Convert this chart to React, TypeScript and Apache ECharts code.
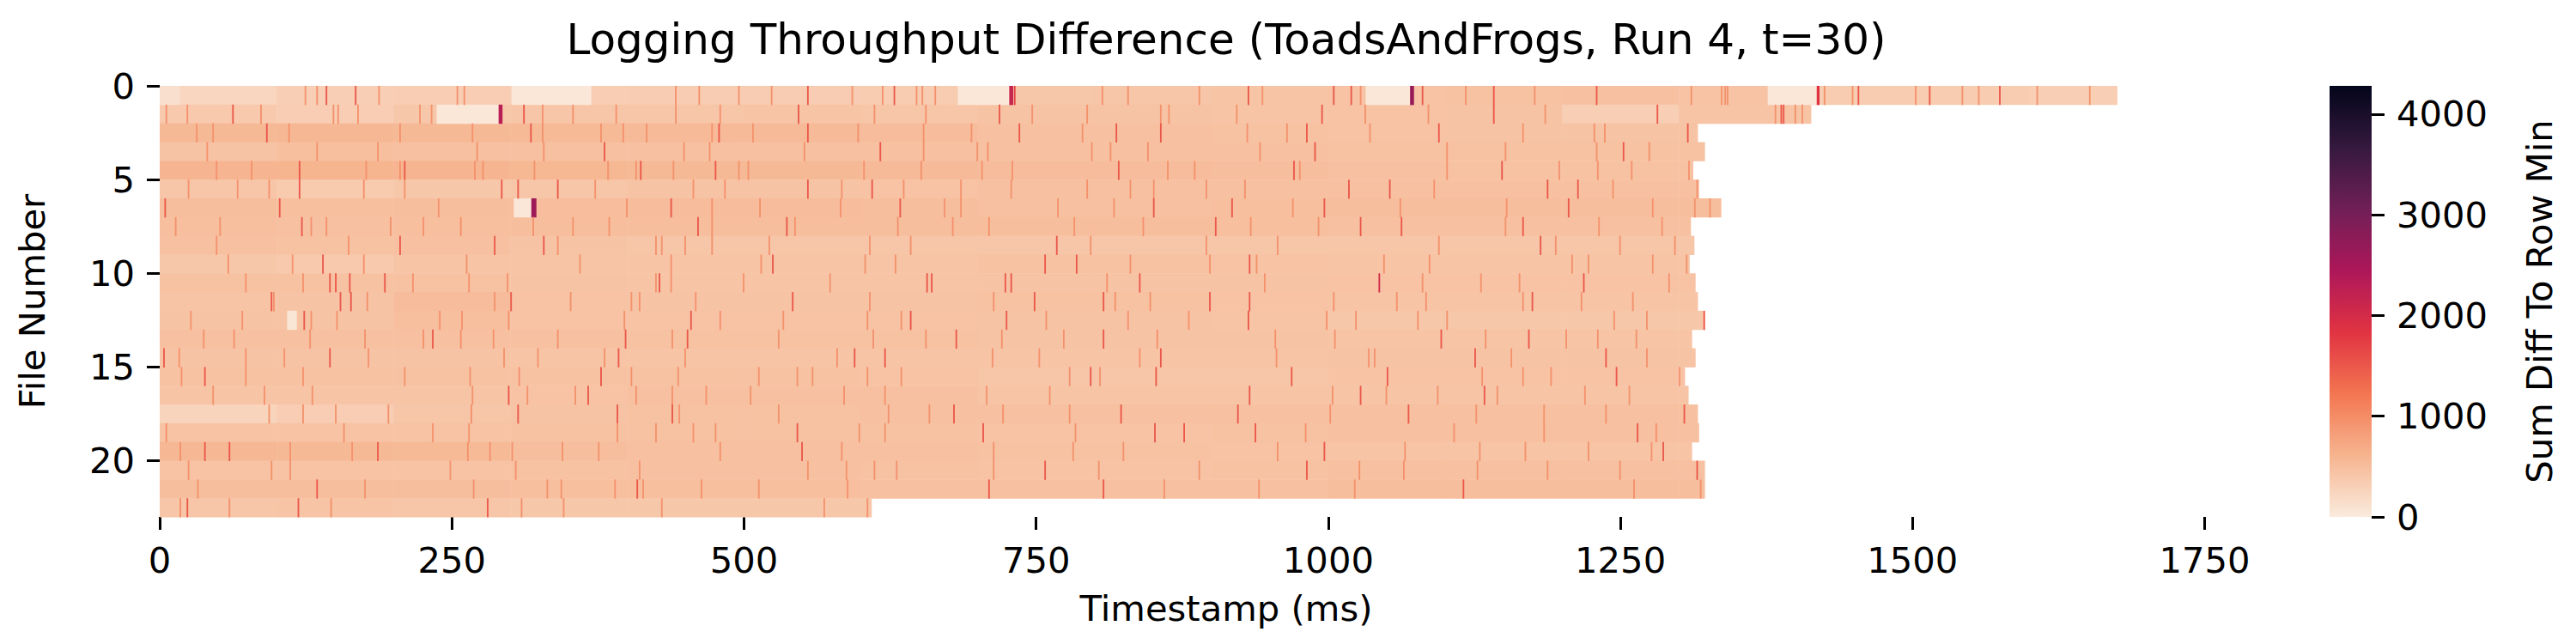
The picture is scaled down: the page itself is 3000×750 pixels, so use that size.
import React, { useEffect, useRef } from 'react';
import * as echarts from 'echarts';

const TITLE = 'Logging Throughput Difference (ToadsAndFrogs, Run 4, t=30)';
const X_LABEL = 'Timestamp (ms)';
const Y_LABEL = 'File Number';
const CBAR_LABEL = 'Sum Diff To Row Min';

const xTicks = [0, 250, 500, 750, 1000, 1250, 1500, 1750];
const yTicks = [0, 5, 10, 15, 20];
const cbarTicks = [0, 1000, 2000, 3000, 4000];
const X_MAX = 1826;
const ROWS = 23;
const V_MAX = 4280;
const BIN_MS = 100;

// last timestamp (ms) of each file row
const rowEnds = [1675, 1413, 1316, 1322, 1312, 1317, 1336, 1310, 1313, 1309, 1314, 1316, 1322, 1311, 1314, 1305, 1308, 1316, 1317, 1311, 1322, 1322, 609];

// typical level of each row, per 100 ms bin
const rowBins: number[][] = [
  [230, 320, 330, 330, 340, 340, 350, 400, 420, 430, 450, 460, 470, 450, 350, 350, 320],
  [380, 330, 400, 420, 420, 430, 420, 440, 440, 430, 450, 440, 320, 430, 430],
  [560, 570, 560, 550, 540, 540, 520, 480, 470, 460, 450, 440, 440, 440],
  [440, 490, 480, 480, 470, 470, 470, 480, 480, 470, 460, 460, 460, 460],
  [600, 610, 600, 580, 560, 560, 540, 520, 520, 500, 470, 460, 460, 460],
  [420, 370, 400, 420, 440, 440, 450, 470, 470, 470, 470, 470, 470, 470],
  [500, 490, 500, 510, 520, 520, 500, 480, 480, 490, 500, 500, 500, 500],
  [490, 480, 490, 500, 500, 500, 500, 500, 500, 490, 470, 470, 470, 470],
  [470, 460, 470, 440, 420, 420, 420, 410, 410, 410, 420, 420, 420, 420],
  [400, 380, 430, 430, 430, 430, 430, 460, 460, 450, 430, 430, 430, 430],
  [460, 460, 460, 440, 430, 430, 430, 440, 440, 440, 450, 450, 450, 450],
  [430, 440, 520, 450, 440, 440, 440, 460, 460, 450, 430, 430, 430, 430],
  [440, 440, 490, 450, 450, 450, 450, 440, 440, 430, 400, 400, 400, 400],
  [480, 480, 480, 470, 460, 460, 460, 440, 440, 440, 430, 430, 430, 430],
  [440, 440, 440, 430, 430, 430, 430, 430, 430, 430, 440, 440, 440, 440],
  [460, 460, 460, 460, 460, 460, 450, 420, 420, 420, 450, 450, 450, 450],
  [430, 430, 430, 450, 470, 470, 470, 430, 430, 430, 430, 430, 430, 430],
  [260, 330, 420, 440, 460, 460, 470, 480, 480, 480, 470, 470, 470, 470],
  [450, 450, 450, 460, 460, 460, 460, 450, 450, 460, 480, 480, 480, 480],
  [570, 560, 550, 500, 480, 480, 470, 460, 460, 450, 430, 430, 430, 430],
  [450, 450, 450, 460, 470, 470, 460, 450, 450, 460, 480, 480, 480, 480],
  [500, 500, 500, 490, 490, 490, 480, 470, 470, 480, 500, 500, 500, 500],
  [420, 430, 420, 400, 400, 400, 400],
];

// [row, startMs, endMs, value]: quiet gaps and the dark spikes that follow them
const blocks: number[][] = [
  [0, 0, 17, 120], [0, 301, 369, 40], [0, 683, 727, 40], [0, 1032, 1070, 40], [0, 1376, 1418, 40],
  [1, 237, 290, 40], [6, 303, 318, 40], [12, 109, 117, 60],
  [0, 727, 730, 2150], [0, 731, 732, 1700], [0, 1070, 1073, 2650], [0, 1418, 1420, 1850],
  [1, 290, 293, 2300], [6, 318, 322, 2600],
];

// single-ms stripes per row: [ms, value]
const stripes: number[][][] = [
  [[124,950],[134,950],[142,1500],[167,1500],[187,950],[254,950],[260,950],[441,950],[461,950],[495,950],[523,950],[554,1500],[592,950],[618,950],[628,1500],[647,950],[652,950],[663,950],[806,950],[828,950],[889,950],[931,1500],[943,950],[1004,1500],[1019,1500],[1027,950],[1080,1500],[1117,950],[1141,1500],[1176,950],[1229,1500],[1310,950],[1336,950],[1339,950],[1341,950],[1424,950],[1448,950],[1453,1500],[1502,950],[1514,1500],[1542,950],[1556,950],[1574,1500],[1606,950],[1651,950]],
  [[5,950],[23,950],[62,1500],[86,950],[148,950],[152,950],[169,950],[222,950],[232,950],[311,1500],[327,950],[353,950],[390,950],[441,950],[479,950],[546,1500],[611,950],[655,950],[718,1500],[746,950],[793,950],[856,950],[863,950],[921,950],[994,1500],[1031,950],[1085,950],[1141,1500],[1185,950],[1281,1500],[1382,950],[1387,1500],[1389,1500],[1399,950],[1405,950]],
  [[31,950],[45,950],[91,1500],[110,950],[205,950],[267,950],[317,1500],[327,950],[377,950],[396,950],[416,950],[472,950],[478,1500],[507,950],[554,1500],[597,950],[653,950],[694,950],[735,1500],[789,950],[818,1500],[856,1500],[930,950],[964,950],[981,1500],[1035,950],[1094,1500],[1166,950],[1227,950],[1236,950],[1307,1500]],
  [[40,950],[134,950],[186,950],[271,950],[328,950],[380,1500],[448,950],[470,950],[551,950],[616,1500],[653,950],[699,950],[708,950],[797,950],[813,950],[845,950],[941,950],[988,1500],[1101,950],[1151,950],[1229,950],[1252,1500],[1274,950]],
  [[48,950],[78,950],[119,1500],[176,950],[205,950],[209,1500],[269,950],[276,950],[320,950],[383,950],[407,950],[411,1500],[439,950],[475,1500],[495,950],[503,950],[602,950],[651,950],[703,950],[729,950],[820,1500],[862,950],[885,950],[970,1500],[975,950],[1101,950],[1148,1500],[1197,950],[1230,950],[1259,950],[1308,950]],
  [[24,950],[66,950],[93,950],[119,1500],[174,950],[209,950],[292,1500],[306,1500],[340,1500],[372,950],[456,950],[483,950],[554,1500],[583,950],[609,1500],[636,950],[685,950],[728,950],[793,950],[830,950],[850,950],[895,950],[928,950],[1017,1500],[1052,1500],[1090,950],[1187,1500],[1213,1500],[1243,950],[1315,950]],
  [[4,1500],[102,1500],[238,950],[399,950],[437,1500],[472,950],[513,950],[582,950],[633,1500],[671,950],[685,950],[768,950],[816,950],[850,1500],[917,1500],[969,950],[996,1500],[1061,950],[1152,950],[1205,1500],[1277,950],[1313,950],[1326,950]],
  [[13,950],[51,950],[121,1500],[129,950],[142,950],[197,950],[225,950],[257,950],[319,950],[353,950],[384,950],[460,1500],[472,950],[536,1500],[543,950],[631,950],[678,950],[709,950],[782,950],[841,950],[903,1500],[933,950],[991,950],[1027,1500],[1062,1500],[1151,950],[1166,1500],[1231,950],[1285,950]],
  [[48,950],[161,950],[205,1500],[286,1500],[328,1500],[340,950],[424,950],[429,950],[449,950],[472,950],[521,950],[607,950],[642,950],[767,1500],[796,950],[895,950],[956,950],[1094,950],[1181,1500],[1194,950],[1249,950],[1296,950]],
  [[58,950],[113,950],[139,1500],[174,950],[262,950],[359,950],[437,950],[514,950],[524,1500],[603,950],[629,950],[757,1500],[784,1500],[830,950],[898,950],[932,1500],[938,950],[1047,950],[1086,950],[1208,950],[1222,950],[1277,950],[1306,950]],
  [[73,950],[122,950],[145,1500],[150,1500],[162,1500],[192,1500],[216,950],[264,950],[297,950],[424,950],[427,1500],[437,950],[499,950],[573,950],[656,1500],[660,1500],[723,1500],[728,1500],[810,950],[838,1500],[945,950],[1043,2000],[1080,950],[1130,950],[1163,950],[1218,1500],[1291,950]],
  [[95,1500],[97,950],[154,1500],[163,1500],[177,950],[286,950],[300,1500],[351,950],[403,950],[410,950],[458,950],[541,1500],[607,950],[713,950],[748,1500],[807,1500],[817,950],[847,950],[898,1500],[932,1500],[1004,950],[1058,950],[1083,950],[1166,950],[1174,1500],[1216,950],[1260,950]],
  [[26,950],[70,950],[123,1500],[129,950],[151,950],[239,950],[258,950],[298,950],[397,950],[454,1500],[479,950],[533,950],[605,950],[634,950],[642,1500],[724,1500],[758,950],[828,950],[880,950],[931,1500],[998,950],[1023,950],[1076,950],[1101,950],[1244,950],[1272,950],[1321,1500]],
  [[37,950],[63,950],[128,950],[175,950],[225,950],[233,1500],[257,950],[285,950],[340,950],[398,1500],[438,950],[451,1500],[529,950],[610,950],[655,950],[681,1500],[720,950],[773,950],[807,1500],[853,950],[954,950],[1005,950],[1096,1500],[1134,950],[1171,1500],[1203,950],[1230,950],[1263,950]],
  [[3,1500],[16,950],[73,950],[106,950],[145,1500],[178,950],[294,950],[323,950],[380,950],[392,1500],[449,950],[579,950],[594,1500],[620,1500],[712,950],[752,950],[838,950],[856,1500],[955,950],[1034,950],[1039,950],[1125,1500],[1156,950],[1237,1500],[1272,950]],
  [[18,950],[38,1500],[73,950],[122,950],[209,950],[265,950],[307,950],[377,1500],[403,950],[443,950],[512,950],[545,950],[558,950],[605,950],[634,950],[778,950],[796,1500],[804,950],[852,1500],[968,1500],[1050,1500],[1131,950],[1166,950],[1190,950],[1246,1500],[1300,950]],
  [[45,950],[89,950],[130,950],[267,950],[298,1500],[314,950],[355,950],[366,1500],[407,950],[438,950],[467,950],[505,950],[585,950],[620,950],[707,950],[761,950],[932,1500],[1003,950],[1027,1500],[1049,950],[1093,950],[1133,1500],[1144,950],[1219,950],[1257,950]],
  [[93,950],[122,950],[150,950],[195,950],[266,950],[306,1500],[391,1500],[438,1500],[444,950],[529,950],[623,950],[658,950],[679,1500],[721,950],[778,950],[822,1500],[922,1500],[1001,950],[1068,1500],[1126,950],[1184,950],[1237,950],[1304,1500]],
  [[5,950],[157,950],[233,950],[264,950],[391,950],[424,950],[456,950],[475,950],[545,1500],[598,950],[620,950],[704,1500],[783,950],[851,1500],[876,1500],[937,1500],[980,950],[1107,950],[1184,950],[1264,1500],[1280,950]],
  [[17,950],[38,1500],[59,1500],[111,950],[164,950],[186,1500],[263,950],[282,950],[301,950],[344,950],[375,950],[479,950],[549,1500],[583,950],[713,950],[781,950],[824,950],[956,950],[996,1500],[1065,950],[1129,950],[1168,950],[1222,950],[1276,950],[1286,1500]],
  [[24,950],[95,950],[111,950],[248,950],[304,950],[410,950],[554,950],[587,950],[611,950],[630,950],[713,950],[757,1500],[803,950],[889,950],[981,1500],[1026,950],[1064,950],[1127,950],[1187,950],[1249,950],[1315,1500]],
  [[32,950],[134,1500],[175,950],[268,950],[331,950],[343,950],[389,950],[408,1500],[413,950],[463,950],[512,950],[588,950],[709,1500],[807,1500],[859,950],[940,950],[1022,950],[1115,1500],[1261,950],[1318,950]],
  [[17,950],[23,1500],[59,950],[118,1500],[146,950],[280,1500],[309,950],[345,950],[429,950],[568,950],[605,950]],
];

// seaborn "rocket_r" colour map, low to high
const rocketR = ['#faebdd', '#f6b48f', '#f37651', '#e13342', '#ad1759', '#701f57', '#35193e', '#03051a'];

function buildCells(): number[][] {
  const cells: number[][] = [];
  rowBins.forEach((bins, r) => {
    bins.forEach((v, k) => {
      cells.push([k * BIN_MS, Math.min((k + 1) * BIN_MS, rowEnds[r]), r, v]);
    });
  });
  blocks.forEach(([r, s, e, v]) => cells.push([s, e, r, v]));
  stripes.forEach((list, r) => list.forEach(([m, v]) => cells.push([m, m + 1, r, v])));
  return cells;
}

const FONT = 'DejaVu Sans';
const LABEL_SIZE = 41.7;

function textEl(text: string, x: number, y: number, size: number, rotation = 0) {
  return {
    type: 'text',
    x,
    y,
    rotation,
    silent: true,
    style: {
      text,
      fill: '#000',
      fontSize: size,
      fontFamily: FONT,
      align: 'center',
      verticalAlign: 'middle',
      textAlign: 'center',
      textVerticalAlign: 'middle',
    },
  };
}

export default function App() {
  const ref = useRef<HTMLDivElement>(null);
  useEffect(() => {
    document.body.style.margin = '0';
    const chart = echarts.init(ref.current as HTMLDivElement, null, { renderer: 'svg' });
    const cells = buildCells();
    const gradStops = rocketR.map((c, i) => ({ offset: i / (rocketR.length - 1), color: c }));
    const tickStyle = { show: true, length: 15, lineStyle: { color: '#000', width: 3 } };
    const labelStyle = {
      margin: 29, fontSize: LABEL_SIZE, color: '#000', fontFamily: FONT,
      formatter: (v: number) => String(v),
    };
    const hiddenLine = { show: false, onZero: false };
    chart.setOption({
      animation: false,
      backgroundColor: '#ffffff',
      textStyle: { fontFamily: FONT },
      grid: [
        { left: 186, top: 100, width: 2485, height: 502 },
        { left: 2713, top: 100, width: 49, height: 502 },
      ],
      xAxis: [
        {
          type: 'value', gridIndex: 0, min: 0, max: X_MAX, position: 'bottom',
          axisLine: hiddenLine, splitLine: { show: false },
          axisTick: { ...tickStyle, customValues: xTicks },
          axisLabel: { ...labelStyle, customValues: xTicks },
        },
        { type: 'value', gridIndex: 1, min: 0, max: 1, show: false, axisLine: hiddenLine },
      ],
      yAxis: [
        {
          type: 'value', gridIndex: 0, min: 0, max: ROWS, inverse: true, position: 'left',
          axisLine: hiddenLine, splitLine: { show: false },
          axisTick: { ...tickStyle, customValues: yTicks },
          axisLabel: { ...labelStyle, customValues: yTicks },
        },
        {
          type: 'value', gridIndex: 1, min: 0, max: V_MAX, position: 'right',
          axisLine: hiddenLine, splitLine: { show: false },
          axisTick: { ...tickStyle, customValues: cbarTicks },
          axisLabel: { ...labelStyle, customValues: cbarTicks },
        },
      ],
      visualMap: {
        type: 'continuous', show: false, min: 0, max: V_MAX, dimension: 3, seriesIndex: 0,
        inRange: { color: rocketR },
      },
      series: [
        {
          type: 'custom', xAxisIndex: 0, yAxisIndex: 0, silent: true,
          data: cells,
          encode: { x: [0, 1], y: 2 },
          renderItem: (params: any, api: any) => {
            const p0 = api.coord([api.value(0), api.value(2)]);
            const p1 = api.coord([api.value(1), api.value(2) + 1]);
            return {
              type: 'rect',
              shape: { x: p0[0], y: p0[1], width: p1[0] - p0[0] + 0.5, height: p1[1] - p0[1] + 0.5 },
              style: { fill: api.visual('color') },
            };
          },
        },
        {
          type: 'custom', xAxisIndex: 1, yAxisIndex: 1, silent: true,
          data: [[0, 0]],
          encode: { x: 0, y: 1 },
          renderItem: (params: any, api: any) => {
            const p0 = api.coord([0, 0]);
            const p1 = api.coord([1, V_MAX]);
            return {
              type: 'rect',
              shape: { x: p0[0], y: p1[1], width: p1[0] - p0[0], height: p0[1] - p1[1] },
              style: { fill: new echarts.graphic.LinearGradient(0, 1, 0, 0, gradStops) },
            };
          },
        },
      ],
      graphic: [
        textEl(TITLE, 1428, 46, 50),
        textEl(X_LABEL, 1428, 708, LABEL_SIZE),
        textEl(Y_LABEL, 37, 351, LABEL_SIZE, Math.PI / 2),
        textEl(CBAR_LABEL, 2957, 351, LABEL_SIZE, Math.PI / 2),
      ],
    });
    return () => chart.dispose();
  }, []);
  return <div ref={ref} style={{ width: 3000, height: 750 }} />;
}
